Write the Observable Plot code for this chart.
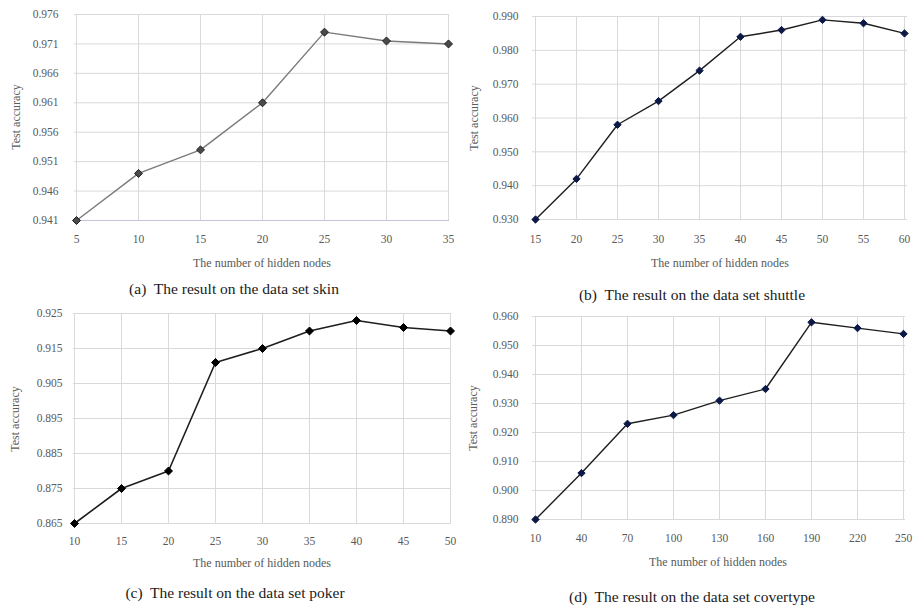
<!DOCTYPE html>
<html>
<head>
<meta charset="utf-8">
<script src="https://cdn.jsdelivr.net/npm/d3@7"></script>
<script src="https://cdn.jsdelivr.net/npm/@observablehq/plot@0.6"></script>
<style>
  html, body { margin: 0; padding: 0; background: #fff; }
  #root { position: relative; width: 916px; height: 608px; overflow: hidden; font-family: "Liberation Serif", "DejaVu Serif", serif; }
  .panel { position: absolute; }
  .cap { position: absolute; font-size: 15.5px; color: #1a1a1a; white-space: pre; transform: translate(-50%, -50%); }
  .xt { position: absolute; font-size: 12px; color: #595959; white-space: nowrap; transform: translate(-50%, -50%); }
  .yt { position: absolute; font-size: 12px; color: #595959; white-space: nowrap; transform: translate(-50%, -50%) rotate(-90deg); }
</style>
</head>
<body>
<div id="root"></div>
<script>
// ---- data ----
const skinNodes = [5, 10, 15, 20, 25, 30, 35];
const skinAcc = [0.941, 0.949, 0.953, 0.961, 0.973, 0.9715, 0.971];
const skinTicks = [0.941, 0.946, 0.951, 0.956, 0.961, 0.966, 0.971, 0.976];

const shuttleNodes = [15, 20, 25, 30, 35, 40, 45, 50, 55, 60];
const shuttleAcc = [0.930, 0.942, 0.958, 0.965, 0.974, 0.984, 0.986, 0.989, 0.988, 0.985];
const shuttleTicks = [0.930, 0.940, 0.950, 0.960, 0.970, 0.980, 0.990];

const pokerNodes = [10, 15, 20, 25, 30, 35, 40, 45, 50];
const pokerAcc = [0.865, 0.875, 0.880, 0.911, 0.915, 0.920, 0.923, 0.921, 0.920];
const pokerTicks = [0.865, 0.875, 0.885, 0.895, 0.905, 0.915, 0.925];

const coverNodes = [10, 40, 70, 100, 130, 160, 190, 220, 250];
const coverAcc = [0.890, 0.906, 0.923, 0.926, 0.931, 0.935, 0.958, 0.956, 0.954];
const coverTicks = [0.890, 0.900, 0.910, 0.920, 0.930, 0.940, 0.950, 0.960];

const captions = [
  "(a)  The result on the data set skin",
  "(b)  The result on the data set shuttle",
  "(c)  The result on the data set poker",
  "(d)  The result on the data set covertype"
];
const xTitle = "The number of hidden nodes";
const yTitle = "Test accuracy";

// ---- layout ----
const panels = [
  { nodes: skinNodes, acc: skinAcc, ticks: skinTicks, left: 0, top: 0, width: 458, height: 275,
    m: [14, 9, 55, 74], yPad: 16, xPad: 14, line: "#7a7a7a", lw: 1.4, dotFill: "#4a4a4a", dotStroke: "#1e1e1e", r: 3.6, baseColor: "#c3c3dd",
    cap: [234, 289], xt: [262, 263], yt: [16, 117] },
  { nodes: shuttleNodes, acc: shuttleAcc, ticks: shuttleTicks, left: 456, top: 0, width: 460, height: 275,
    m: [16, 9, 56, 76], yPad: 14, xPad: 15, line: "#1e1e1e", lw: 1.4, dotFill: "#0c1846", dotStroke: "#0c1846", r: 3.3, baseColor: "#d9d9d9",
    cap: [692, 295], xt: [720, 263], yt: [474, 118] },
  { nodes: pokerNodes, acc: pokerAcc, ticks: pokerTicks, left: 0, top: 300, width: 460, height: 250,
    m: [13, 9, 27, 73], yPad: 11, xPad: 13, line: "#1e1e1e", lw: 1.6, dotFill: "#000", dotStroke: "#000", r: 3.6, baseColor: "#d9d9d9",
    cap: [235, 593], xt: [262, 563], yt: [15, 419] },
  { nodes: coverNodes, acc: coverAcc, ticks: coverTicks, left: 456, top: 300, width: 460, height: 250,
    m: [16, 11, 31, 76], yPad: 14, xPad: 14, line: "#1e1e1e", lw: 1.4, dotFill: "#0c1846", dotStroke: "#0c1846", r: 3.3, baseColor: "#d9d9d9",
    cap: [692, 597], xt: [718, 562], yt: [473, 418] }
];

const root = document.getElementById("root");

panels.forEach((p, i) => {
  const data = p.nodes.map((n, k) => ({ n: String(n), v: p.acc[k] }));
  const dom = p.nodes.map(String);
  const lo = p.ticks[0], hi = p.ticks[p.ticks.length - 1];
  const chart = Plot.plot({
    width: p.width,
    height: p.height,
    marginTop: p.m[0], marginRight: p.m[1], marginBottom: p.m[2], marginLeft: p.m[3],
    style: { fontFamily: "Liberation Serif, serif", fontSize: "11.5px", color: "#595959", background: "transparent", overflow: "visible" },
    x: { type: "point", domain: dom, padding: 0 },
    y: { domain: [lo, hi] },
    marks: [
      Plot.ruleY(p.ticks.slice(1), { stroke: "#d9d9d9", strokeWidth: 1 }),
      Plot.ruleX(dom, { stroke: "#d9d9d9", strokeWidth: 1 }),
      Plot.ruleY([lo], { stroke: p.baseColor, strokeWidth: 1.2 }),
      Plot.axisY({ ticks: p.ticks, tickFormat: d3.format(".3f"), tickSize: 0, tickPadding: p.yPad, label: null }),
      Plot.axisX({ ticks: dom, tickSize: 0, tickPadding: p.xPad, label: null }),
      Plot.line(data, { x: "n", y: "v", stroke: p.line, strokeWidth: p.lw }),
      Plot.dot(data, { x: "n", y: "v", symbol: "diamond2", r: p.r, fill: p.dotFill, stroke: p.dotStroke, strokeWidth: 1 })
    ]
  });
  chart.classList.add("panel");
  chart.style.left = p.left + "px";
  chart.style.top = p.top + "px";
  root.appendChild(chart);

  const cap = document.createElement("div");
  cap.className = "cap"; cap.textContent = captions[i];
  cap.style.left = p.cap[0] + "px"; cap.style.top = p.cap[1] + "px";
  root.appendChild(cap);

  const xt = document.createElement("div");
  xt.className = "xt"; xt.textContent = xTitle;
  xt.style.left = p.xt[0] + "px"; xt.style.top = p.xt[1] + "px";
  root.appendChild(xt);

  const yt = document.createElement("div");
  yt.className = "yt"; yt.textContent = yTitle;
  yt.style.left = p.yt[0] + "px"; yt.style.top = p.yt[1] + "px";
  root.appendChild(yt);
});
</script>
</body>
</html>
